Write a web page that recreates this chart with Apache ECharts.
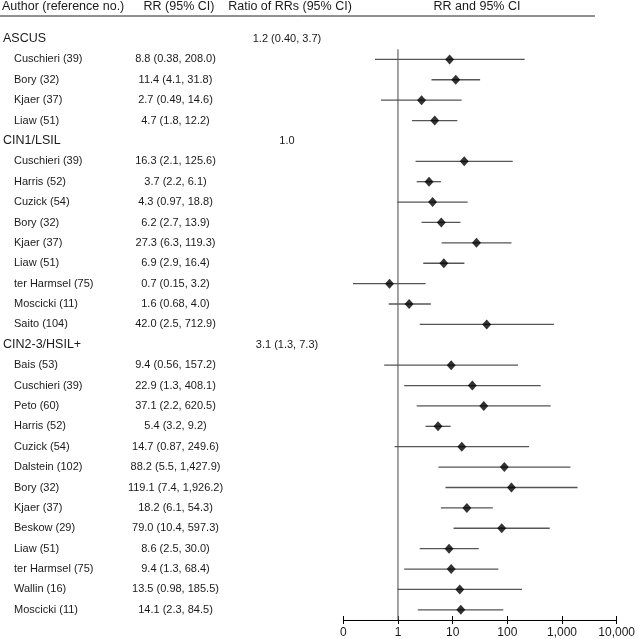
<!DOCTYPE html>
<html>
<head>
<meta charset="utf-8">
<script src="https://cdn.jsdelivr.net/npm/echarts@6/dist/echarts.min.js"></script>
<style>
  html, body { margin: 0; padding: 0; background: #fff; }
  #main { width: 638px; height: 639px; }
</style>
</head>
<body>
<div id="main"></div>
<script>
// groups and their pooled ratio of RRs
var groups = ['ASCUS', 'CIN1/LSIL', 'CIN2-3/HSIL+']
var ratioRR = [1.2, 1.0, 3.1]
var ratioLo = [0.40, null, 1.3]
var ratioHi = [3.7, null, 7.3]

// ASCUS
var ascusAuthors = ['Cuschieri (39)', 'Bory (32)', 'Kjaer (37)', 'Liaw (51)']
var ascusRR = [8.8, 11.4, 2.7, 4.7]
var ascusLo = [0.38, 4.1, 0.49, 1.8]
var ascusHi = [208.0, 31.8, 14.6, 12.2]

// CIN1/LSIL
var cin1Authors = ['Cuschieri (39)', 'Harris (52)', 'Cuzick (54)', 'Bory (32)', 'Kjaer (37)', 'Liaw (51)', 'ter Harmsel (75)', 'Moscicki (11)', 'Saito (104)']
var cin1RR = [16.3, 3.7, 4.3, 6.2, 27.3, 6.9, 0.7, 1.6, 42.0]
var cin1Lo = [2.1, 2.2, 0.97, 2.7, 6.3, 2.9, 0.15, 0.68, 2.5]
var cin1Hi = [125.6, 6.1, 18.8, 13.9, 119.3, 16.4, 3.2, 4.0, 712.9]

// CIN2-3/HSIL+
var cin2Authors = ['Bais (53)', 'Cuschieri (39)', 'Peto (60)', 'Harris (52)', 'Cuzick (54)', 'Dalstein (102)', 'Bory (32)', 'Kjaer (37)', 'Beskow (29)', 'Liaw (51)', 'ter Harmsel (75)', 'Wallin (16)', 'Moscicki (11)']
var cin2RR = [9.4, 22.9, 37.1, 5.4, 14.7, 88.2, 119.1, 18.2, 79.0, 8.6, 9.4, 13.5, 14.1]
var cin2Lo = [0.56, 1.3, 2.2, 3.2, 0.87, 5.5, 7.4, 6.1, 10.4, 2.5, 1.3, 0.98, 2.3]
var cin2Hi = [157.2, 408.1, 620.5, 9.2, 249.6, 1427.9, 1926.2, 54.3, 597.3, 30.0, 68.4, 185.5, 84.5]

function fmt(v, d) {
  return v.toLocaleString('en-US', { minimumFractionDigits: d, maximumFractionDigits: d })
}
// point estimate with 1 decimal, bounds below 1 with 2 decimals
function ciText(rr, lo, hi) {
  if (lo == null) return fmt(rr, 1)
  return fmt(rr, 1) + ' (' + fmt(lo, lo < 1 ? 2 : 1) + ', ' + fmt(hi, 1) + ')'
}

// build the table rows
var studySets = [
  [ascusAuthors, ascusRR, ascusLo, ascusHi],
  [cin1Authors, cin1RR, cin1Lo, cin1Hi],
  [cin2Authors, cin2RR, cin2Lo, cin2Hi]
]
var rows = []
groups.forEach(function (g, gi) {
  rows.push({ group: g, ratio: ciText(ratioRR[gi], ratioLo[gi], ratioHi[gi]) })
  var s = studySets[gi]
  s[0].forEach(function (a, i) {
    rows.push({ author: a, rr: s[1][i], lo: s[2][i], hi: s[3][i] })
  })
})
var rowKeys = rows.map(function (r, i) { return 'r' + i })

var points = []
var ciData = []
rows.forEach(function (r, i) {
  if (r.author) {
    points.push([r.rr, rowKeys[i]])
    ciData.push([r.lo, r.hi, rowKeys[i]])
  }
})

var chart = echarts.init(document.getElementById('main'))
var gridLeft = 343.3
var textColor = '#1a1a1a'
var font = 'Liberation Sans, Arial, sans-serif'

function labelAxis(offset, align, size, fn) {
  return {
    type: 'category', data: rowKeys, inverse: true, position: 'left', offset: offset,
    axisLine: { show: false }, axisTick: { show: false }, splitLine: { show: false },
    axisLabel: {
      interval: 0, margin: 0, align: align, fontSize: size, color: textColor, fontFamily: font,
      formatter: function (v, i) { return fn(rows[i]) }
    }
  }
}

// log axis; the second copy is shifted up 4px so its ticks cross the line
function xAxisBase(isMain) {
  return {
    type: 'log', logBase: 10, min: 0.1, max: 10000, gridIndex: 0, position: 'bottom',
    offset: isMain ? 0 : -4,
    axisLine: { show: isMain, lineStyle: { color: '#000', width: 1 } },
    axisTick: { show: !isMain, length: 8, lineStyle: { color: '#000' } },
    splitLine: { show: false },
    axisLabel: {
      show: isMain, margin: 7, fontSize: 12, color: textColor, fontFamily: font,
      formatter: function (v) { return v < 1 ? '0' : Math.round(v).toLocaleString('en-US') }
    }
  }
}

chart.setOption({
  animation: false,
  backgroundColor: '#fff',
  grid: { left: gridLeft, right: 17.3, top: 28.8, bottom: 18.9 },
  xAxis: [xAxisBase(true), xAxisBase(false)],
  yAxis: [
    labelAxis(gridLeft - 3, 'left', 12.5, function (r) { return r.group || '' }),
    labelAxis(gridLeft - 14, 'left', 11, function (r) { return r.author || '' }),
    labelAxis(gridLeft - 175.5, 'center', 11, function (r) { return r.author ? ciText(r.rr, r.lo, r.hi) : '' }),
    labelAxis(gridLeft - 287, 'center', 11, function (r) { return r.ratio || '' })
  ],
  graphic: [
    { type: 'line', shape: { x1: 0, y1: 16, x2: 595, y2: 16 }, style: { stroke: '#222', lineWidth: 1 } },
    { type: 'text', x: 2, y: 7, style: { text: 'Author (reference no.)', fontSize: 12.5, fontFamily: font, fill: textColor, verticalAlign: 'middle' } },
    { type: 'text', x: 179, y: 7, style: { text: 'RR (95% CI)', fontSize: 12.5, fontFamily: font, fill: textColor, align: 'center', verticalAlign: 'middle' } },
    { type: 'text', x: 290, y: 7, style: { text: 'Ratio of RRs (95% CI)', fontSize: 12.5, fontFamily: font, fill: textColor, align: 'center', verticalAlign: 'middle' } },
    { type: 'text', x: 477, y: 7, style: { text: 'RR and 95% CI', fontSize: 12.5, fontFamily: font, fill: textColor, align: 'center', verticalAlign: 'middle' } }
  ],
  series: [
    {
      // reference line at RR = 1, starting at the first study row
      type: 'custom', xAxisIndex: 0, yAxisIndex: 0, silent: true,
      data: [[1, rowKeys[1]]],
      renderItem: function (params, api) {
        var p = api.coord([api.value(0), api.value(1)])
        var half = api.size([0, 1])[1] / 2
        var bottom = params.coordSys.y + params.coordSys.height
        return { type: 'line', shape: { x1: p[0], y1: p[1] - half, x2: p[0], y2: bottom }, style: { stroke: '#666', lineWidth: 1.2 } }
      }
    },
    {
      type: 'custom', xAxisIndex: 0, yAxisIndex: 0, silent: true,
      data: ciData,
      renderItem: function (params, api) {
        var a = api.coord([api.value(0), api.value(2)])
        var b = api.coord([api.value(1), api.value(2)])
        return { type: 'line', shape: { x1: a[0], y1: a[1], x2: b[0], y2: b[1] }, style: { stroke: '#555', lineWidth: 1.3 } }
      }
    },
    {
      type: 'scatter', xAxisIndex: 0, yAxisIndex: 0, silent: true,
      symbol: 'diamond', symbolSize: [9, 10],
      itemStyle: { color: '#000' },
      data: points
    }
  ]
})
</script>
</body>
</html>
